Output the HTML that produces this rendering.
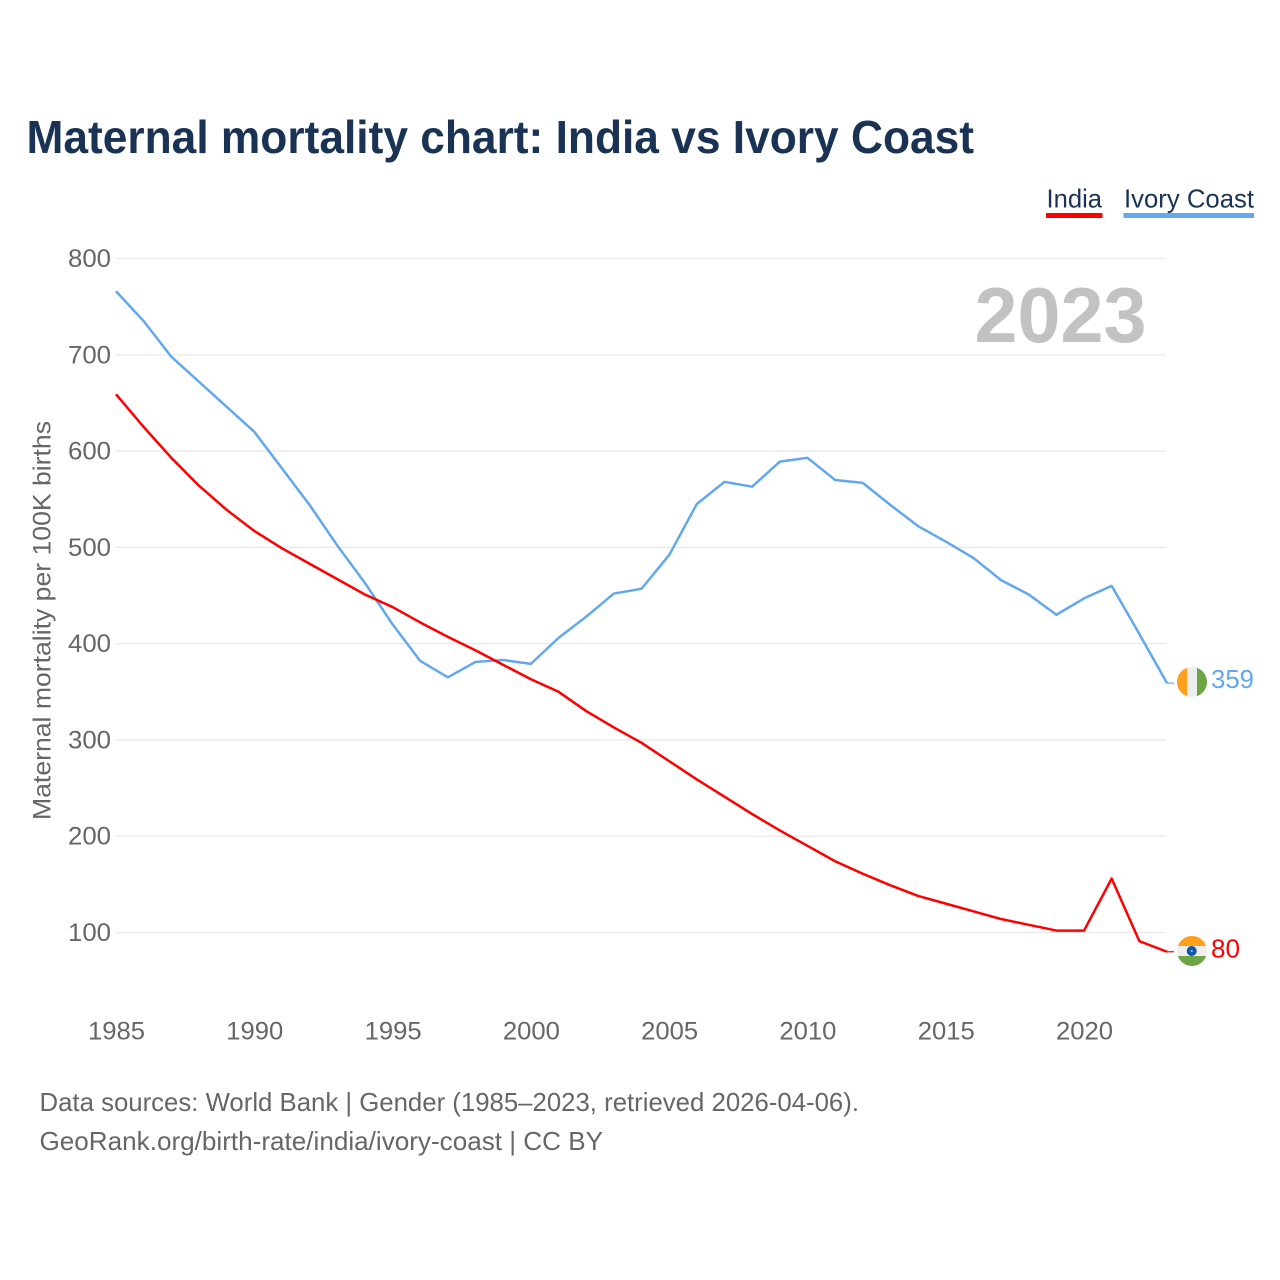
<!DOCTYPE html>
<html lang="en">
<head>
<meta charset="utf-8">
<title>Maternal mortality chart: India vs Ivory Coast</title>
<style>
html,body{margin:0;padding:0;background:#fff;width:1280px;height:1280px;overflow:hidden}
svg{display:block}
text{font-family:"Liberation Sans",sans-serif}
</style>
</head>
<body>
<svg id="chart" xmlns="http://www.w3.org/2000/svg" width="1280" height="1280" viewBox="0 0 1280 1280">
  <text x="26.500" y="153" font-size="46" font-weight="700" fill="#1a3354" textLength="947.500" lengthAdjust="spacingAndGlyphs">Maternal mortality chart: India vs Ivory Coast</text>

  <g>
    <g>
      <text x="1046.500" y="207.500" font-size="26" fill="#1a3354" textLength="55.500" lengthAdjust="spacingAndGlyphs">India</text>
      <rect x="1046" y="213" width="56.500" height="5" fill="#ff0000"/>
    </g>
    <g>
      <text x="1124" y="207.500" font-size="26" fill="#1a3354" textLength="130" lengthAdjust="spacingAndGlyphs">Ivory Coast</text>
      <rect x="1123.500" y="213" width="130.500" height="5" fill="#62a8ee"/>
    </g>
  </g>

  <g id="grid"></g>
  <g id="yticks"></g>
  <g id="xticks"></g>

  <text transform="translate(50.500,620.500) rotate(-90)" text-anchor="middle" font-size="25" fill="#666666" textLength="399" lengthAdjust="spacingAndGlyphs">Maternal mortality per 100K births</text>

  <text id="year-label" x="1146.500" y="342" text-anchor="end" font-size="78" font-weight="700" fill="#c2c2c2" textLength="172" lengthAdjust="spacingAndGlyphs"></text>

  <g id="series"></g>

  <defs>
    <clipPath id="clip-ci"><circle cx="1192" cy="682" r="15"/></clipPath>
    <clipPath id="clip-in"><circle cx="1192" cy="951" r="15"/></clipPath>
  </defs>

  <g clip-path="url(#clip-ci)">
    <rect x="1177" y="667" width="30" height="30" fill="#eeeeee"/>
    <rect x="1177" y="667" width="10" height="30" fill="#ff9f1c"/>
    <rect x="1197" y="667" width="10" height="30" fill="#6da544"/>
  </g>
  <g clip-path="url(#clip-in)">
    <rect x="1177" y="936" width="30" height="30" fill="#eeeeee"/>
    <rect x="1177" y="936" width="30" height="10" fill="#ff9f1c"/>
    <rect x="1177" y="956" width="30" height="10" fill="#6da544"/>
    <circle cx="1191.700" cy="951" r="5" fill="#0f56a8"/>
    <circle cx="1191.700" cy="951" r="1.200" fill="#8fb2d8"/>
  </g>

  <text id="value-ivory" x="1211" y="688" font-size="26" fill="#62a8ee" textLength="43" lengthAdjust="spacingAndGlyphs"></text>
  <text id="value-india" x="1211" y="957.500" font-size="26" fill="#ff0000" textLength="29" lengthAdjust="spacingAndGlyphs"></text>

  <g>
    <text x="39.500" y="1111" font-size="26" fill="#666666" textLength="819.500" lengthAdjust="spacingAndGlyphs">Data sources: World Bank | Gender (1985–2023, retrieved 2026-04-06).</text>
    <text x="39.500" y="1150" font-size="26" fill="#666666" textLength="563.500" lengthAdjust="spacingAndGlyphs">GeoRank.org/birth-rate/india/ivory-coast | CC BY</text>
  </g>
</svg>
<script>
var years = [1985,1986,1987,1988,1989,1990,1991,1992,1993,1994,1995,1996,1997,1998,1999,2000,2001,2002,2003,2004,2005,2006,2007,2008,2009,2010,2011,2012,2013,2014,2015,2016,2017,2018,2019,2020,2021,2022,2023];
var india = [659,625,593,564,539,517,499,483,467,451,438,422,407,393,378,363,350,330,313,297,278,259,241,223,206,190,174,161,149,138,130,122,114,108,102,102,156,91,80];
var ivoryCoast = [766,735,698,672,646,620,582,544,502,463,420,382,365,381,383,379,406,428,452,457,492,545,568,563,589,593,570,567,544,522,506,489,466,451,430,447,460,410,359];
var yTickValues = [100,200,300,400,500,600,700,800];
var xTickValues = [1985,1990,1995,2000,2005,2010,2015,2020];

var NS = 'http://www.w3.org/2000/svg';
function xScale(year){ return 116 + (year - 1985) * (1167 - 116) / 38; }
function yScale(value){ return 932.5 - (value - 100) * (932.5 - 258.5) / 700; }
function make(tag, parent){
  var el = document.createElementNS(NS, tag);
  parent.appendChild(el);
  return el;
}

var gridG = document.getElementById('grid');
var yG = document.getElementById('yticks');
var xG = document.getElementById('xticks');
var seriesG = document.getElementById('series');

yTickValues.forEach(function(v){
  var line = make('line', gridG);
  
  
  line.setAttribute('x1', 116);
  line.setAttribute('x2', 1166);
  line.setAttribute('y1', yScale(v));
  line.setAttribute('y2', yScale(v));
  line.setAttribute('stroke', '#e9e9e9');
  line.setAttribute('stroke-width', '1.300');
  var t = make('text', yG);
  
  
  t.setAttribute('x', 68);
  t.setAttribute('y', yScale(v) + 8.500);
  t.setAttribute('font-size', '25');
  t.setAttribute('fill', '#666666');
  t.setAttribute('textLength', '43');
  t.setAttribute('lengthAdjust', 'spacingAndGlyphs');
  t.textContent = v;
});

xTickValues.forEach(function(y){
  var t = make('text', xG);
  
  
  t.setAttribute('x', xScale(y) - 28);
  t.setAttribute('y', 1039.500);
  t.setAttribute('font-size', '25');
  t.setAttribute('fill', '#666666');
  t.setAttribute('textLength', '57');
  t.setAttribute('lengthAdjust', 'spacingAndGlyphs');
  t.textContent = y;
});

function linePoints(values){
  return values.map(function(v, i){
    return xScale(years[i]).toFixed(2) + ',' + yScale(v).toFixed(2);
  }).join(' ');
}

var ivoryLine = make('polyline', seriesG);


ivoryLine.setAttribute('points', linePoints(ivoryCoast));
ivoryLine.setAttribute('fill', 'none');
ivoryLine.setAttribute('stroke', '#62a8ee');
ivoryLine.setAttribute('stroke-width', '2.500');
ivoryLine.setAttribute('stroke-linejoin', 'round');

var indiaLine = make('polyline', seriesG);


indiaLine.setAttribute('points', linePoints(india));
indiaLine.setAttribute('fill', 'none');
indiaLine.setAttribute('stroke', '#ff0000');
indiaLine.setAttribute('stroke-width', '2.500');
indiaLine.setAttribute('stroke-linejoin', 'round');

var lastIvory = ivoryCoast[ivoryCoast.length - 1];
var lastIndia = india[india.length - 1];
var lastYear = years[years.length - 1];

var ivoryLeader = make('line', seriesG);


ivoryLeader.setAttribute('x1', xScale(lastYear));
ivoryLeader.setAttribute('x2', xScale(lastYear) + 7);
ivoryLeader.setAttribute('y1', yScale(lastIvory));
ivoryLeader.setAttribute('y2', yScale(lastIvory));
ivoryLeader.setAttribute('stroke', '#62a8ee');
ivoryLeader.setAttribute('stroke-width', '1.200');

var indiaLeader = make('line', seriesG);


indiaLeader.setAttribute('x1', xScale(lastYear));
indiaLeader.setAttribute('x2', xScale(lastYear) + 7);
indiaLeader.setAttribute('y1', yScale(lastIndia));
indiaLeader.setAttribute('y2', yScale(lastIndia));
indiaLeader.setAttribute('stroke', '#ff0000');
indiaLeader.setAttribute('stroke-width', '1.200');

document.getElementById('value-ivory').textContent = lastIvory;
document.getElementById('value-india').textContent = lastIndia;
document.getElementById('year-label').textContent = lastYear;
</script>
</body>
</html>
